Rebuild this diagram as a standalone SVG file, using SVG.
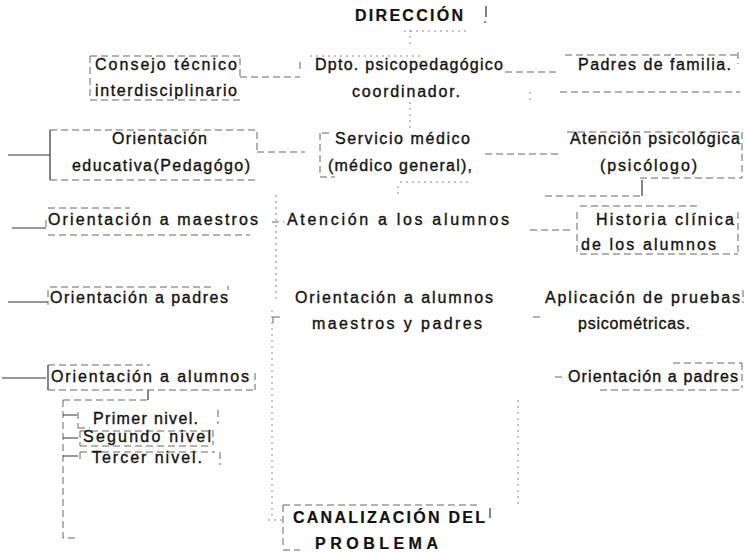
<svg xmlns="http://www.w3.org/2000/svg" width="746" height="553" viewBox="0 0 746 553">
<defs>
<style>
text{font-family:"Liberation Sans",Arial,sans-serif;font-size:16px;fill:#111;stroke:#111;stroke-width:0.35}
.b{font-weight:bold;stroke-width:0.2}
.d{fill:none;stroke:#666;stroke-width:1;stroke-dasharray:7 4}
.f{fill:none;stroke:#888;stroke-width:1;stroke-dasharray:2 4}
.s{fill:none;stroke:#333;stroke-width:1.2}
</style>
</defs>
<rect width="746" height="553" fill="#fff"/>
<g id="connectors">
<path class="f" d="M410 30V44M404 31H470"/>
<path class="d" d="M240 77H300M300 62V70"/>
<path class="d" d="M505 72H560"/>
<path class="f" d="M530 92V100M410 102V132"/>
<path class="d" d="M257 152H305"/>
<path class="d" d="M485 154H560"/>
<path class="s" d="M642 180V196"/>
<path class="d" d="M545 196H642"/>
<path class="f" d="M400 182H470M398 186V194"/>
<path class="s" d="M8 155H50"/>
<path class="s" d="M12 228H46"/>
<path class="d" d="M272 222H284"/>
<path class="d" d="M530 230H570"/>
<path class="s" d="M8 302H48"/>
<path class="s" d="M2 378H46"/>
<path class="d" d="M555 377H565"/>
<path class="f" d="M276 195V300M272 310V520M268 520H283"/>
<path class="f" d="M518 400V508"/>
<path class="s" d="M148 390V400"/>
<path class="d" d="M63 400H148M63 400V538H75"/>
<path class="s" d="M63 415H77M63 438H78M63 456H78"/>
</g>
<g id="direccion">
<text class="b" x="355" y="21" textLength="108" lengthAdjust="spacing">DIRECCIÓN</text>
<path class="s" d="M486 6V17M485 21V23"/>
</g>
<g id="consejo">
<path class="d" d="M90 56V100M90 56H240M240 58V76M90 100H240"/>
<text x="95" y="70" textLength="142" lengthAdjust="spacing">Consejo técnico</text>
<text x="95" y="96" textLength="142" lengthAdjust="spacing">interdisciplinario</text>
</g>
<g id="dpto">
<path class="f" d="M310 56H420"/>
<text x="315" y="70" textLength="188" lengthAdjust="spacing">Dpto. psicopedagógico</text>
<text x="352" y="97" textLength="108" lengthAdjust="spacing">coordinador.</text>
</g>
<g id="padres">
<path class="d" d="M565 55H740M738 52V64M560 92H740"/>
<text x="578" y="70" textLength="153" lengthAdjust="spacing">Padres de familia.</text>
</g>
<g id="orientacion-educativa">
<path class="s" d="M50 130V180"/>
<path class="d" d="M50 130H257M257 132V150M50 180H257"/>
<text x="112" y="144" textLength="95" lengthAdjust="spacing">Orientación</text>
<text x="72" y="171" textLength="178" lengthAdjust="spacing">educativa(Pedagógo)</text>
</g>
<g id="servicio-medico">
<path class="d" d="M320 133V177M320 177H335M322 133H332"/>
<text x="335" y="144" textLength="135" lengthAdjust="spacing">Servicio médico</text>
<text x="328" y="171" textLength="144" lengthAdjust="spacing">(médico general),</text>
</g>
<g id="atencion-psicologica">
<path class="d" d="M567 132H742M742 132V178M640 178H742"/>
<text x="570" y="144" textLength="170" lengthAdjust="spacing">Atención psicológica</text>
<text x="600" y="171" textLength="97" lengthAdjust="spacing">(psicólogo)</text>
</g>
<g id="orientacion-maestros">
<path class="d" d="M48 208H130M48 235H250M46 220V228"/>
<text x="48" y="225" textLength="210" lengthAdjust="spacing">Orientación a  maestros</text>
</g>
<g id="atencion-alumnos">
<text x="287" y="225" textLength="222" lengthAdjust="spacing">Atención a  los  alumnos</text>
</g>
<g id="historia-clinica">
<path class="d" d="M577 212V252M738 212V252M580 206H700M580 254H738"/>
<text x="596" y="225" textLength="138" lengthAdjust="spacing">Historia clínica</text>
<text x="581" y="250" textLength="135" lengthAdjust="spacing">de  los alumnos</text>
</g>
<g id="orientacion-padres-izq">
<path class="d" d="M50 287H215M48 290V305M228 286V290"/>
<text x="50" y="303" textLength="178" lengthAdjust="spacing">Orientación a  padres</text>
</g>
<g id="orientacion-alumnos-centro">
<path class="d" d="M273 317H283M273 317V323"/>
<text x="295" y="303" textLength="198" lengthAdjust="spacing">Orientación a  alumnos</text>
<text x="312" y="329" textLength="170" lengthAdjust="spacing">maestros  y  padres</text>
</g>
<g id="aplicacion-pruebas">
<path class="d" d="M743 290V303M533 317H543"/>
<text x="545" y="303" textLength="195" lengthAdjust="spacing">Aplicación de pruebas</text>
<text x="578" y="329" textLength="112" lengthAdjust="spacing">psicométricas.</text>
</g>
<g id="orientacion-alumnos-izq">
<path class="s" d="M48 365V390"/>
<path class="d" d="M48 365H150M48 390H255M255 373V390"/>
<text x="51" y="382" textLength="198" lengthAdjust="spacing">Orientación a alumnos</text>
</g>
<g id="orientacion-padres-der">
<path class="d" d="M673 363H742M742 363V388M600 390H742"/>
<text x="568" y="382" textLength="170" lengthAdjust="spacing">Orientación a  padres</text>
</g>
<g id="primer-nivel">
<path class="d" d="M78 412V428M78 428H90M218 410V424"/>
<text x="93" y="424" textLength="105" lengthAdjust="spacing">Primer nivel.</text>
</g>
<g id="segundo-nivel">
<path class="d" d="M80 431H212M80 431V446M80 446H212M213 430V445"/>
<text x="83" y="442" textLength="128" lengthAdjust="spacing">Segundo nivel</text>
</g>
<g id="tercer-nivel">
<path class="d" d="M80 452V460M80 452H215M220 452V465"/>
<text x="92" y="463" textLength="110" lengthAdjust="spacing">Tercer  nivel.</text>
</g>
<g id="canalizacion">
<path class="d" d="M283 505H480M283 505V545M283 550H300"/>
<path class="s" d="M490 508V518"/>
<text class="b" x="293" y="523" textLength="192" lengthAdjust="spacing">CANALIZACIÓN DEL</text>
<text class="b" x="315" y="549" textLength="123" lengthAdjust="spacing">PROBLEMA</text>
</g>
</svg>
